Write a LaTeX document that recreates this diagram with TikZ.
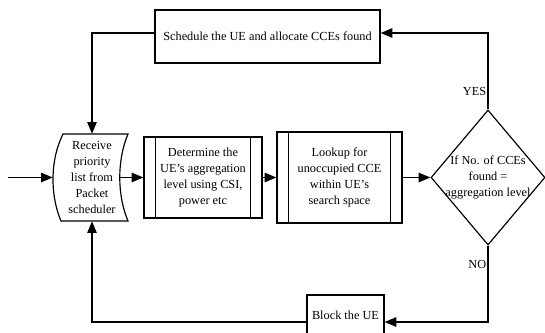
\documentclass[tikz,border=0pt]{standalone}
\usepackage{fontspec}
\setmainfont{Liberation Serif}
\usetikzlibrary{calc,arrows.meta,shapes.geometric}

\begin{document}
\begin{tikzpicture}[x=0.03cm,y=-0.03cm,
  font=\fontsize{10.5}{13.6}\selectfont,
  box/.style={draw,line width=1pt,align=center,inner sep=0pt},
  arr/.style={line width=1.2pt,-{Triangle[length=10pt,width=8pt]}}]
  \useasboundingbox (0,0) rectangle (545,332);

  % process boxes
  \node[box,minimum width=6.75cm,minimum height=1.59cm] (sched) at (267.5,36.5) {Schedule the UE and allocate CCEs found};
  \node[align=center,inner sep=0pt,minimum width=2.34cm,minimum height=2.61cm] (recv) at (92,177.5) {Receive\\priority\\list from\\Packet\\scheduler};
  \node[box,minimum width=3.54cm,minimum height=2.43cm] (det) at (203,177.5) {Determine the\\UE's aggregation\\level using CSI,\\power etc};
  \node[box,minimum width=3.75cm,minimum height=2.73cm] (look) at (339.5,177.5) {Lookup for\\unoccupied CCE\\within UE's\\search space};
  \node[diamond,draw,line width=1pt,aspect=0.84,inner sep=0pt,minimum width=3.42cm,minimum height=4.05cm,
    label={[align=center]center:If No. of CCEs\\found =\\aggregation level}] (dec) at (488,177.5) {};
  \node[box,minimum width=2.31cm,minimum height=1.2cm] (blk) at (345.5,315) {Block the UE};

  % receive box with bent sides
  \draw[line width=1pt] (63,134) -- (128,134) .. controls (117,160) and (117,195) .. (128,221)
    -- (61,221) .. controls (50,195) and (50,160) .. cycle;

  % double side lines of the predefined steps
  \foreach \n in {det,look}{
    \draw[line width=1pt] ($(\n.north west)+(12,0)$) -- ($(\n.south west)+(12,0)$);
    \draw[line width=1pt] ($(\n.north east)+(-12,0)$) -- ($(\n.south east)+(-12,0)$);
  }

  \coordinate (start) at (8,177.5);
  \coordinate (recvR) at (120,177.5);
  \coordinate (yesC) at (488,33);
  \coordinate (noC) at (488,322);
  \coordinate (topL) at (92,33);
  \coordinate (botL) at (92,322);

  % main flow
  \draw[arr] (start) -- (recv.west);
  \draw[arr] (recvR) -- (det.west);
  \draw[arr] (det.east) -- (look.west);
  \draw[arr] (look.east) -- (dec.west);

  % decision branches
  \draw[arr] (dec.north) -- node[left,pos=0.23,inner sep=1pt] {YES} (yesC) -- (yesC -| sched.east);
  \draw[arr] (dec.south) -- node[left,pos=0.25,inner sep=1pt] {NO} (noC) -- (noC -| blk.east);

  % back to the start
  \draw[arr] (sched.west |- yesC) -- (topL) -- (recv.north);
  \draw[arr] (blk.west |- noC) -- (botL) -- (recv.south);
\end{tikzpicture}
\end{document}
